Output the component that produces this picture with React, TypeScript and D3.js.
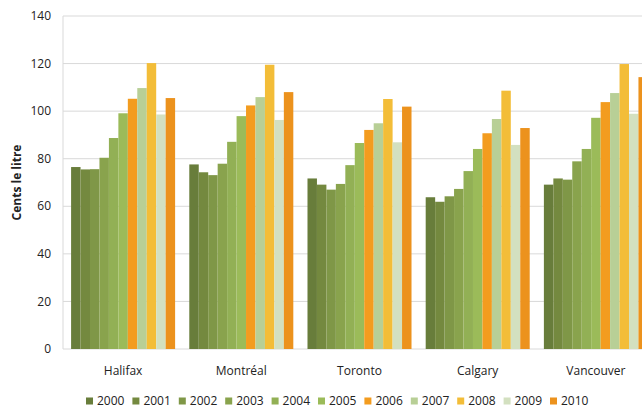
import React from "react";
import * as d3 from "d3";

const cities = ["Halifax", "Montréal", "Toronto", "Calgary", "Vancouver"];
const years = ["2000", "2001", "2002", "2003", "2004", "2005", "2006", "2007", "2008", "2009", "2010"];
const halifax = [76.5, 75.5, 75.6, 80.4, 88.7, 99.1, 105.2, 109.7, 120.2, 98.6, 105.5];
const montreal = [77.6, 74.3, 73.1, 77.9, 87.1, 97.9, 102.4, 105.9, 119.5, 96.3, 108.0];
const toronto = [71.7, 69.1, 67.0, 69.4, 77.3, 86.6, 92.1, 94.9, 105.1, 86.9, 101.9];
const calgary = [63.8, 61.9, 64.2, 67.3, 74.8, 84.1, 90.7, 96.7, 108.6, 85.8, 92.9];
const vancouver = [69.1, 71.7, 71.2, 78.9, 84.1, 97.2, 103.8, 107.6, 119.8, 98.9, 114.3];
const yTicks = [0, 20, 40, 60, 80, 100, 120, 140];
const colors = ["#687d3b", "#74893f", "#7f9747", "#89a34d", "#92b055", "#9bbb59", "#f39c1f", "#b8cf96", "#f3bd38", "#d3e0c0", "#ec921d"];

const seriesByCity = [halifax, montreal, toronto, calgary, vancouver];
const font = "'Open Sans', 'Liberation Sans', sans-serif";

export default function App() {
  const W = 642, H = 409;
  const left = 63, top = 16, bottom = 349;
  const x0 = d3.scaleBand<string>().domain(cities).range([64, 655]).paddingInner(0.12).paddingOuter(0.06);
  const x1 = d3.scaleBand<string>().domain(years).range([0, x0.bandwidth()]);
  const y = d3.scaleLinear().domain([0, 140]).range([bottom, top]);
  const legendX = d3.scaleLinear().domain([0, 10]).range([86, 550]);

  return (
    <svg width={W} height={H} style={{ position: "absolute", left: 0, top: 0 }} fontFamily={font}>
      {yTicks.map((t) => (
        <g key={t}>
          <line x1={left} x2={W} y1={y(t)} y2={y(t)} stroke="#d9d9d9" strokeWidth={1} />
          <text x={51} y={y(t)} dy="0.35em" textAnchor="end" fontSize={12} fill="#222">{t}</text>
        </g>
      ))}
      <line x1={left} x2={left} y1={top} y2={bottom} stroke="#d9d9d9" />
      {cities.map((c, ci) => (
        <g key={c} transform={`translate(${x0(c)},0)`}>
          {seriesByCity[ci].map((v, i) => (
            <rect key={i} x={x1(years[i])} y={y(v)} width={x1.bandwidth()} height={bottom - y(v)} fill={colors[i]} />
          ))}
          <text x={x0.bandwidth() / 2} y={371} dy="0.35em" textAnchor="middle" fontSize={12} fill="#222">{c}</text>
        </g>
      ))}
      <text transform={`translate(17,${(top + bottom) / 2}) rotate(-90)`} textAnchor="middle" dy="0.35em" fontSize={12} fontWeight="bold" fill="#222">Cents le litre</text>
      {years.map((yr, i) => (
        <g key={yr} transform={`translate(${legendX(i)},401)`}>
          <rect x={0} y={-3.5} width={7} height={7} fill={colors[i]} />
          <text x={11} y={0} dy="0.35em" fontSize={12} fill="#222">{yr}</text>
        </g>
      ))}
    </svg>
  );
}
